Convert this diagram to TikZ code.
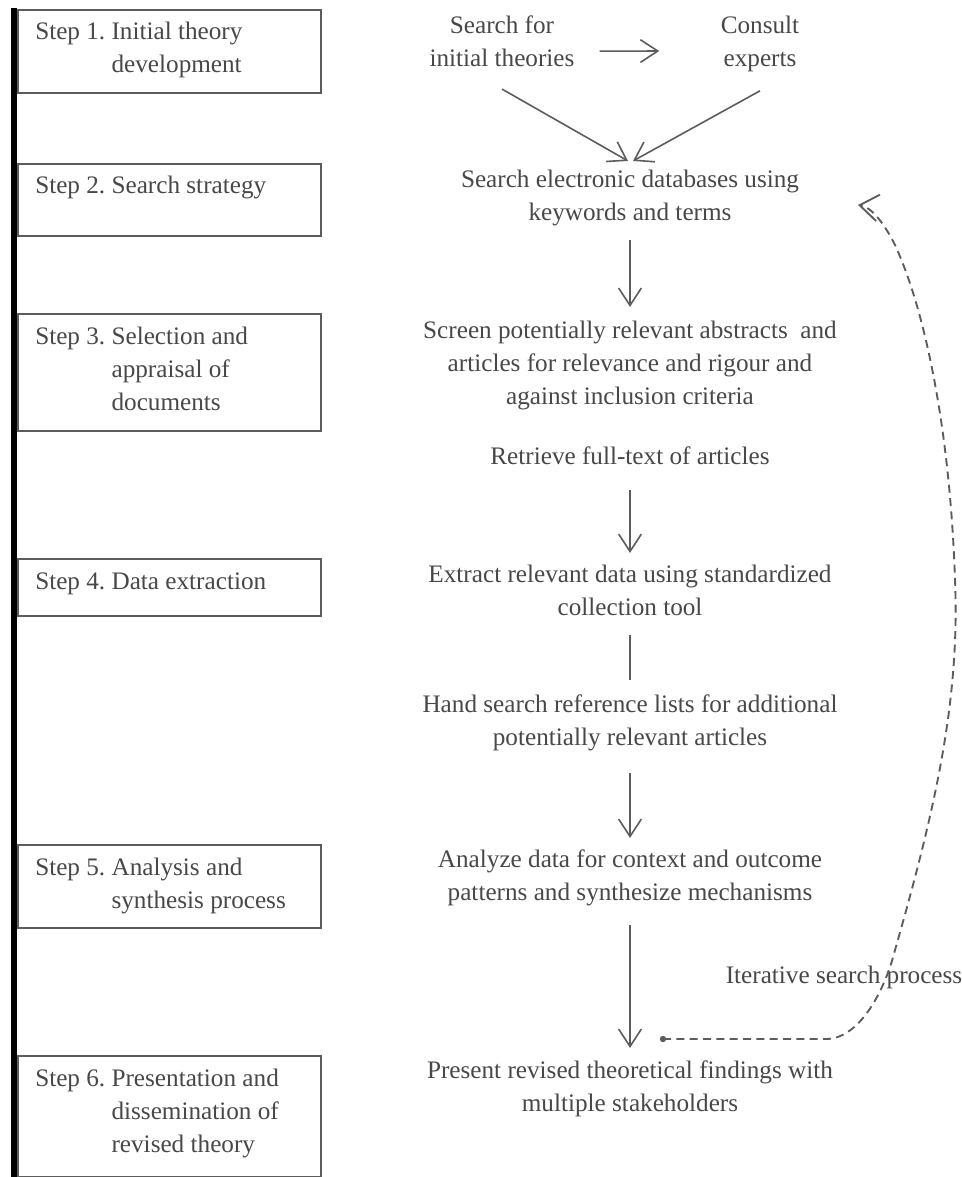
\documentclass[tikz,border=0pt]{standalone}
\usepackage{fontspec}
\setmainfont{Liberation Serif}
\usetikzlibrary{arrows.meta}
\definecolor{ink}{RGB}{72,72,72}
\definecolor{rule}{RGB}{92,92,92}
\newcommand\diagfont{\fontsize{18.9}{24.75}\selectfont}
\newenvironment{steplines}{\begin{tabular}[t]{@{}l@{\ }l@{}}}{\end{tabular}}
\begin{document}
\begin{tikzpicture}[x=0.75pt,y=-0.75pt,
  stepbox/.style={draw=rule, line width=1.4pt, rectangle, inner sep=0pt,
    minimum width=227.25pt, anchor=north west},
  steptxt/.style={anchor=base west, inner sep=0pt, text=ink, font=\diagfont},
  col/.style={anchor=north, align=center, inner sep=0pt, text=ink, font=\diagfont,
    execute at begin node=\strut, execute at end node=\strut},
  arr/.style={draw=rule, line width=1.2pt, -{Straight Barb[length=13pt,width=17pt]}},
  plain/.style={draw=rule, line width=1.2pt},
  loop/.style={draw=rule, line width=1.4pt, dash pattern=on 6pt off 4pt,
    -{Straight Barb[length=14pt,width=20pt]}}
]
\useasboundingbox (0,0) rectangle (961,1177);
\fill[white] (0,0) rectangle (961,1177);
\clip (0,0) rectangle (961,1177);

% left rail
\fill[black] (11,8) rectangle (17,1177);

% step boxes
\node[stepbox, minimum height=62.25pt] (b1) at (17,9) {};
\node[stepbox, minimum height=54pt] (b2) at (17,163) {};
\node[stepbox, minimum height=87.75pt] (b3) at (17,313) {};
\node[stepbox, minimum height=42.75pt] (b4) at (17,558) {};
\node[stepbox, minimum height=62.25pt] (b5) at (17,844) {};
\node[stepbox, minimum height=90.75pt] (b6) at (17,1055) {};

\node[steptxt] (t1) at ([xshift=13.5pt,yshift=-23.25pt]b1.north west)
  {\begin{steplines}Step 1.&Initial theory\\&development\end{steplines}};
\node[steptxt] (t2) at ([xshift=13.5pt,yshift=-23.25pt]b2.north west)
  {\begin{steplines}Step 2.&Search strategy\end{steplines}};
\node[steptxt] (t3) at ([xshift=13.5pt,yshift=-23.25pt]b3.north west)
  {\begin{steplines}Step 3.&Selection and\\&appraisal of\\&documents\end{steplines}};
\node[steptxt] (t4) at ([xshift=13.5pt,yshift=-23.25pt]b4.north west)
  {\begin{steplines}Step 4.&Data extraction\end{steplines}};
\node[steptxt] (t5) at ([xshift=13.5pt,yshift=-23.25pt]b5.north west)
  {\begin{steplines}Step 5.&Analysis and\\&synthesis process\end{steplines}};
\node[steptxt] (t6) at ([xshift=13.5pt,yshift=-23.25pt]b6.north west)
  {\begin{steplines}Step 6.&Presentation and\\&dissemination of\\&revised theory\end{steplines}};

% process column
\node[col] (src) at (502,15.9) {Search for\\initial theories};
\node[col] (exp) at (760,15.9) {Consult\\experts};
\node[col] (db) at (630,169.9) {Search electronic databases using\\keywords and terms};
\node[col] (scr) at (630,320.9) {Screen potentially relevant abstracts~ and\\articles for relevance and rigour and\\against inclusion criteria};
\node[col] (ret) at (630,440.9) {Retrieve full-text of articles};
\node[col] (ext) at (630,564.9) {Extract relevant data using standardized\\collection tool};
\node[col] (hand) at (630,694.9) {Hand search reference lists for additional\\potentially relevant articles};
\node[col] (ana) at (630,849.9) {Analyze data for context and outcome\\patterns and synthesize mechanisms};
\node[col] (pres) at (630,1060.9) {Present revised theoretical findings with\\multiple stakeholders};
\node[steptxt, anchor=base] (iter) at (844,983) {Iterative search process};

% connectors
\draw[arr] ([xshift=18.75pt,yshift=-3.5pt]src.east) -- ([xshift=-46pt,yshift=-3.5pt]exp.west);
\draw[arr] ([yshift=-9pt]src.south) -- ([xshift=-1.5pt,yshift=6.7pt]db.north);
\draw[arr] ([yshift=-10.5pt]exp.south) -- ([xshift=2.25pt,yshift=6.7pt]db.north);
\draw[arr, shorten <=6.75pt, shorten >=10.5pt] (db.south) -- (scr.north);
\draw[arr, shorten <=12pt, shorten >=9pt] (ret.south) -- (ext.north);
\draw[plain, shorten <=6.75pt, shorten >=11.25pt] (ext.south) -- (hand.north);
\draw[arr, shorten <=12.75pt, shorten >=9pt] (hand.south) -- (ana.north);
\draw[arr, shorten <=10.5pt, shorten >=9.75pt] (ana.south) -- (pres.north);

% iterative search loop
\coordinate (lp0) at (663,1039);
\coordinate (lp1) at (827,1039);
\coordinate (lpt) at (858,205);
\fill[rule] (lp0) circle (2.4pt);
\draw[loop] (lp0) -- (lp1)
  .. controls (860,1038) and (885,990) .. (895,950)
  .. controls (935,810) and (960,700) .. (955,580)
  .. controls (950,430) and (925,310) .. (895,245)
  .. controls (885,225) and (872,207) .. (lpt);
\end{tikzpicture}
\end{document}
